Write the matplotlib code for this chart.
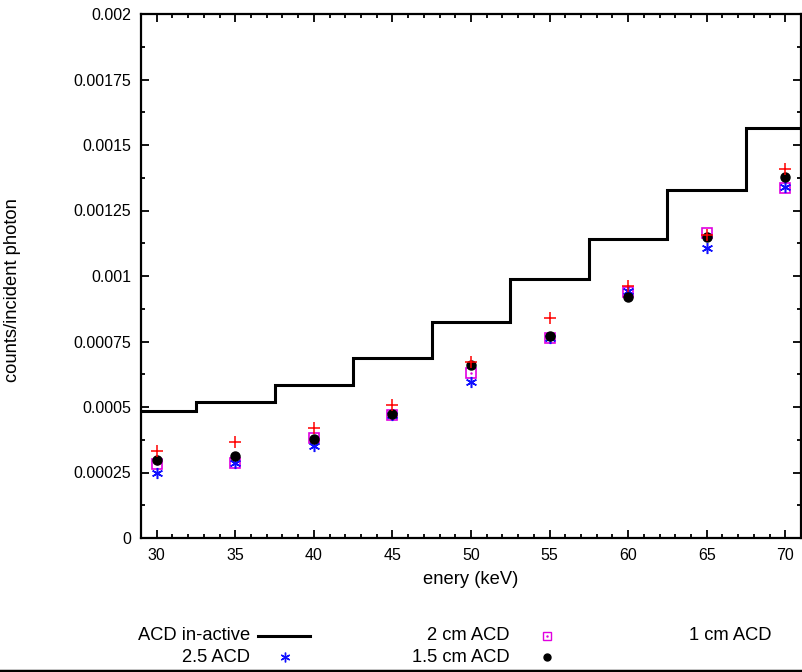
import numpy as np
import matplotlib
matplotlib.use("Agg")
import matplotlib.pyplot as plt
from matplotlib.lines import Line2D
from matplotlib.ticker import MultipleLocator, FixedLocator

plt.rcParams['font.family'] = ['Liberation Sans', 'DejaVu Sans']

# histogram "ACD in-active": bin edges and levels
edges = [29, 32.5, 37.5, 42.5, 47.5, 52.5, 57.5, 62.5, 67.5, 71]
inactive = [0.000485, 0.00052, 0.000583, 0.000687, 0.000824, 0.000990, 0.001140, 0.001330, 0.001565]

energy = [30, 35, 40, 45, 50, 55, 60, 65, 70]
cm1 = [0.000332, 0.000368, 0.000420, 0.000508, 0.000673, 0.000838, 0.000960, 0.001156, 0.001407]
cm2 = [0.000284, 0.000285, 0.000381, 0.000471, 0.000630, 0.000765, 0.000940, 0.001165, 0.001335]
acd25 = [0.000249, 0.000287, 0.000350, 0.000471, 0.000597, 0.000762, 0.000942, 0.001106, 0.001339]
cm15 = [0.000298, 0.000313, 0.000379, 0.000473, 0.000660, 0.000771, 0.000918, 0.001148, 0.001377]

yticks = [0, 0.00025, 0.0005, 0.00075, 0.001, 0.00125, 0.0015, 0.00175, 0.002]
ylabels = ['0', '0.00025', '0.0005', '0.00075', '0.001', '0.00125', '0.0015', '0.00175', '0.002']

star = (6, 2, 0)
fs_tick = 11.5
fs_lab = 13.2

fig = plt.figure(figsize=(8.03, 6.72), dpi=100)
ax = fig.add_axes([141/803, (672-538)/672, (801-141)/803, (538-14)/672])

ax.stairs(inactive, edges, color='black', lw=2.2, baseline=None)
ax.plot(energy, cm2, ls='none', marker='s', ms=7, mfc='none', mec='#e000e0', mew=1.2)
ax.plot(energy, cm2, ls='none', marker='.', ms=1.5, color='#e000e0')
ax.plot(energy, acd25, ls='none', marker=star, ms=8, color='#1010ff', mew=1.1)
ax.plot(energy, cm15, ls='none', marker='o', ms=6.5, color='black')
ax.plot(energy, cm1, ls='none', marker='+', ms=9, color='red', mew=1.1)

ax.set_xlim(29, 71)
ax.set_ylim(0, 0.002)
ax.xaxis.set_major_locator(MultipleLocator(5))
ax.xaxis.set_minor_locator(MultipleLocator(1))
ax.yaxis.set_major_locator(FixedLocator(yticks))
ax.yaxis.set_minor_locator(MultipleLocator(0.000125))
ax.set_yticklabels(ylabels)
ax.tick_params(which='both', direction='in', top=True, right=True, labelsize=fs_tick, width=1.3)
ax.tick_params(which='major', length=6, pad=7)
ax.tick_params(which='minor', length=3)
for s in ax.spines.values():
    s.set_linewidth(1.6)

ax.set_xlabel('enery (keV)', fontsize=fs_lab, labelpad=6)
fig.text(13/803, 1 - 290/672, 'counts/incident photon', rotation=90, fontsize=fs_lab,
         ha='center', va='center')

# gnuplot-style key below the plot
def key_text(x, y, s):
    fig.text(x/803, 1 - y/672, s, ha='right', va='center', fontsize=fs_lab)

key_text(250, 636, 'ACD in-active')
fig.add_artist(Line2D([258/803, 310/803], [1 - 636/672] * 2, color='black', lw=2.2))
key_text(510, 636, '2 cm ACD')
fig.add_artist(Line2D([547/803], [1 - 636/672], ls='none', marker='s', ms=6, mfc='none',
                      mec='#e000e0', mew=1.0))
fig.add_artist(Line2D([547/803], [1 - 636/672], ls='none', marker='.', ms=1.5, color='#e000e0'))
key_text(772, 636, '1 cm ACD')
fig.add_artist(Line2D([809/803], [1 - 636/672], ls='none', marker='+', ms=8, color='red'))
key_text(250, 657, '2.5 ACD')
fig.add_artist(Line2D([285/803], [1 - 657/672], ls='none', marker=star, ms=7, color='#1010ff'))
key_text(510, 657, '1.5 cm ACD')
fig.add_artist(Line2D([547/803], [1 - 657/672], ls='none', marker='o', ms=5, color='black'))

# border line at the bottom edge of the picture
fig.add_artist(Line2D([0, 1], [1.5/672, 1.5/672], color='black', lw=2.5))

fig.savefig('out.png', dpi=100)
